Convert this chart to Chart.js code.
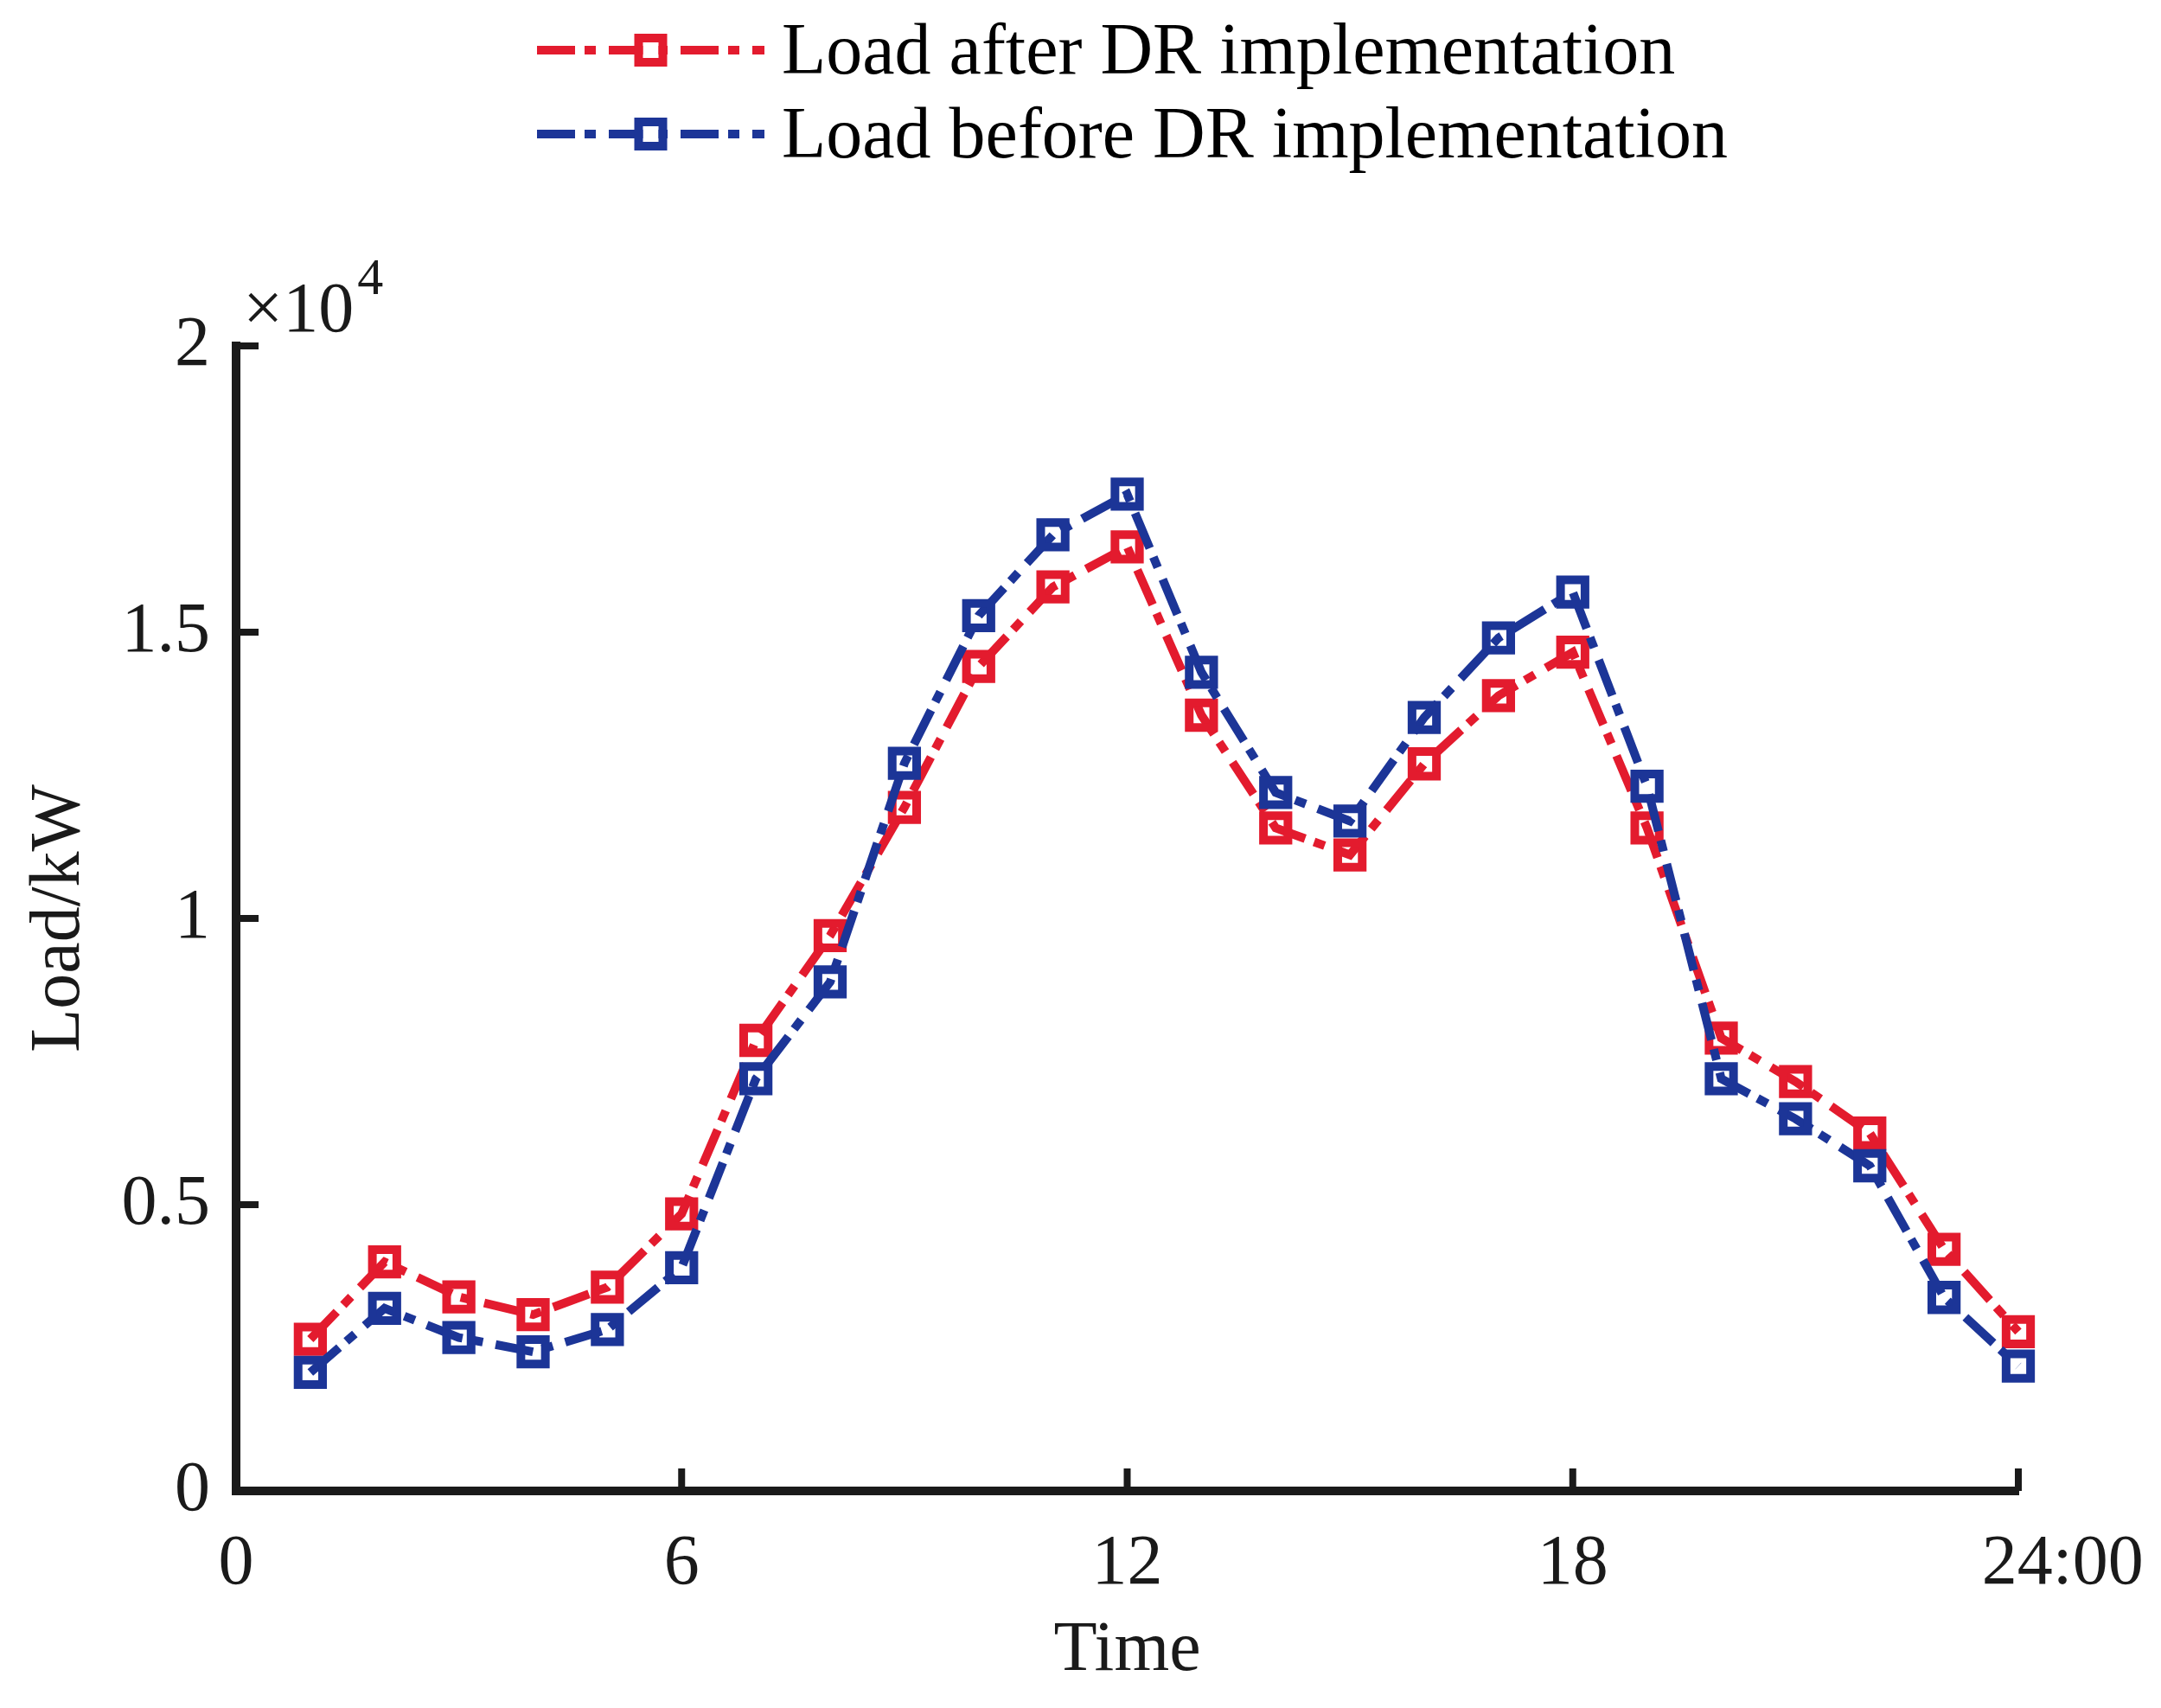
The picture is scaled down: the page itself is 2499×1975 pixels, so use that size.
<!DOCTYPE html>
<html>
<head>
<meta charset="utf-8">
<script src="https://cdn.jsdelivr.net/npm/chart.js@4"></script>
<style>
  body { margin: 0; background: #fff; }
  #wrap { width: 2499px; height: 1975px; }
</style>
</head>
<body>
<div id="wrap"><canvas id="chart" width="2499" height="1975"></canvas></div>
<script>
// Data (hour of day, load in kW)
const hours = [1, 2, 3, 4, 5, 6, 7, 8, 9, 10, 11, 12, 13, 14, 15, 16, 17, 18, 19, 20, 21, 22, 23, 24];
const afterDR = [2650, 4000, 3390, 3080, 3560, 4840, 7870, 9700, 11940, 14400, 15790, 16490,
  13550, 11580, 11110, 12700, 13890, 14650, 11580, 7910, 7150, 6250, 4220, 2780];
const beforeDR = [2070, 3190, 2680, 2430, 2820, 3900, 7200, 8890, 12710, 15290, 16700, 17410,
  14300, 12200, 11700, 13510, 14900, 15700, 12310, 7200, 6500, 5680, 3380, 2180];

const xTicks = [0, 6, 12, 18, 24];
// last label sits right of its tick in the original, hence the leading spaces
const xTickLabels = ["0", "6", "12", "18", "     24:00"];
const yTicks = [0, 5000, 10000, 15000, 20000];
const yTickLabels = ["0", "0.5", "1", "1.5", "2"];

const serif = "'Liberation Serif', 'Times New Roman', serif";
const ink = "#1a1a1a";
const red = "#E31B2E";
const blue = "#1C3597";
const dashDot = [44, 11, 13, 15];

const toPoints = (vals) => vals.map((v, i) => ({ x: hours[i], y: v }));

// inward tick marks, MATLAB style, plus the x10^4 exponent
const innerTicks = {
  id: "innerTicks",
  afterDraw(chart) {
    const { ctx, chartArea, scales } = chart;
    ctx.save();
    ctx.strokeStyle = ink;
    ctx.lineWidth = 8;
    scales.x.ticks.forEach((t) => {
      const px = scales.x.getPixelForValue(t.value);
      ctx.beginPath();
      ctx.moveTo(px, chartArea.bottom);
      ctx.lineTo(px, chartArea.bottom - 26);
      ctx.stroke();
    });
    scales.y.ticks.forEach((t) => {
      const py = scales.y.getPixelForValue(t.value);
      ctx.beginPath();
      ctx.moveTo(chartArea.left, py);
      ctx.lineTo(chartArea.left + 26, py);
      ctx.stroke();
    });
    // fill the corner where the two axis lines meet
    ctx.fillStyle = ink;
    ctx.fillRect(chartArea.left - 5, chartArea.bottom - 5, 10, 10);

    ctx.textBaseline = "alphabetic";
    ctx.textAlign = "left";
    ctx.font = "82px " + serif;
    ctx.fillText("\u00d710", chartArea.left + 8, chartArea.top - 17);
    const w = ctx.measureText("\u00d710").width;
    ctx.font = "60px " + serif;
    ctx.fillText("4", chartArea.left + 8 + w + 4, chartArea.top - 60);
    ctx.restore();
  },
};

// legend: dash-dot line with square marker, one row per series
const lineLegend = {
  id: "lineLegend",
  afterDraw(chart) {
    const { ctx } = chart;
    const x0 = 621, x1 = 884, tx = 904;
    const rows = [58, 155];
    ctx.save();
    chart.data.datasets.forEach((ds, i) => {
      const y = rows[i];
      ctx.strokeStyle = ds.borderColor;
      ctx.lineWidth = ds.borderWidth;
      ctx.setLineDash(ds.borderDash);
      ctx.beginPath();
      ctx.moveTo(x0, y);
      ctx.lineTo(x1, y);
      ctx.stroke();
      ctx.setLineDash([]);
      const mx = (x0 + x1) / 2;
      ctx.fillStyle = "#fff";
      ctx.fillRect(mx - 9, y - 9, 18, 18);
      ctx.lineWidth = ds.pointBorderWidth;
      ctx.strokeRect(mx - 14, y - 14, 28, 28);
      ctx.fillStyle = "#000";
      ctx.font = "84px " + serif;
      ctx.textBaseline = "alphabetic";
      ctx.textAlign = "left";
      ctx.fillText(ds.label, tx, y + 27);
    });
    ctx.restore();
  },
};

const chart = document.querySelector("#chart").getContext("2d");

new Chart(chart, {
  type: "line",
  data: {
    datasets: [
      {
        label: "Load after DR implementation",
        data: toPoints(afterDR),
        borderColor: red,
        borderWidth: 10,
        borderDash: dashDot,
        pointStyle: "rect",
        pointRadius: 20,
        pointBorderWidth: 10,
        pointBorderColor: red,
        pointBackgroundColor: "rgba(0,0,0,0)",
        tension: 0,
        clip: false,
        order: 1,
      },
      {
        label: "Load before DR implementation",
        data: toPoints(beforeDR),
        borderColor: blue,
        borderWidth: 10,
        borderDash: dashDot,
        pointStyle: "rect",
        pointRadius: 20,
        pointBorderWidth: 10,
        pointBorderColor: blue,
        pointBackgroundColor: "rgba(0,0,0,0)",
        tension: 0,
        clip: false,
        order: 0,
      },
    ],
  },
  options: {
    responsive: false,
    animation: false,
    devicePixelRatio: 1,
    layout: { padding: { top: 400, right: 165, left: 0, bottom: 0 } },
    plugins: {
      legend: { display: false },
      tooltip: { enabled: false },
    },
    scales: {
      x: {
        type: "linear",
        min: 0,
        max: 24,
        afterBuildTicks: (s) => { s.ticks = xTicks.map((v) => ({ value: v })); },
        afterFit: (s) => {
          s.height = 251;
          // keep the plot edge fixed; the labels fit in the layout padding
          s.paddingLeft = 0;
          s.paddingRight = 0;
        },
        grid: { display: false, drawTicks: false },
        border: { display: true, color: ink, width: 10 },
        ticks: {
          padding: 36,
          color: ink,
          font: { family: serif, size: 82 },
          maxRotation: 0,
          autoSkip: false,
          callback: (v, i) => xTickLabels[i],
        },
        title: {
          display: true,
          text: "Time",
          color: ink,
          font: { family: serif, size: 82 },
          padding: { top: 0, bottom: 16 },
        },
      },
      y: {
        min: 0,
        max: 20000,
        afterBuildTicks: (s) => { s.ticks = yTicks.map((v) => ({ value: v })); },
        afterFit: (s) => { s.width = 273; },
        grid: { display: false, drawTicks: false },
        border: { display: true, color: ink, width: 10 },
        ticks: {
          padding: 30,
          color: ink,
          font: { family: serif, size: 82 },
          autoSkip: false,
          callback: (v, i) => yTickLabels[i],
        },
        title: {
          display: true,
          text: "Load/kW",
          color: ink,
          font: { family: serif, size: 82 },
          padding: { top: 20, bottom: 0 },
        },
      },
    },
  },
  plugins: [innerTicks, lineLegend],
});
</script>
</body>
</html>
